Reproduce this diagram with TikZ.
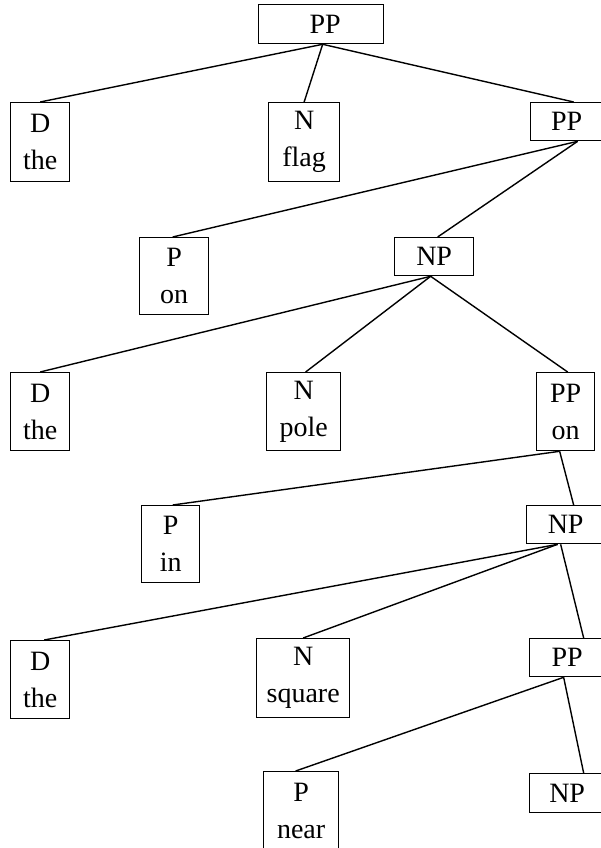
\documentclass[tikz,border=0pt]{standalone}
\usepackage{fontspec}
\setmainfont{Liberation Serif}
\begin{document}
\begin{tikzpicture}[x=1pt,y=-1pt,
  box/.style={draw, line width=1.3pt, anchor=north west, inner sep=0pt, align=center,
    font=\fontsize{28}{37}\selectfont},
  link/.style={line width=1.4pt}]
\useasboundingbox (0,0) rectangle (601,848);
% nodes
\node[box, minimum width=125pt, minimum height=39pt] (root) at (258,4) {\hspace*{8pt}PP};
\node[box, minimum width=59pt, minimum height=79pt] (d1) at (10,102) {D\\the};
\node[box, minimum width=71pt, minimum height=79pt] (n1) at (268,102) {N\\flag};
\node[box, minimum width=72pt, minimum height=38pt] (pp1) at (530,102) {PP};
\node[box, minimum width=69pt, minimum height=77pt] (p2) at (139,237) {P\\on};
\node[box, minimum width=79pt, minimum height=38pt] (np2) at (394,237) {NP};
\node[box, minimum width=59pt, minimum height=78pt] (d3) at (10,372) {D\\the};
\node[box, minimum width=74pt, minimum height=78pt] (n3) at (266,372) {N\\pole};
\node[box, minimum width=58pt, minimum height=78pt] (pp3) at (536,372) {PP\\on};
\node[box, minimum width=58pt, minimum height=77pt] (p4) at (141,505) {P\\in};
\node[box, minimum width=78pt, minimum height=38pt] (np4) at (526,505) {NP};
\node[box, minimum width=59pt, minimum height=78pt] (d5) at (10,640) {D\\the};
\node[box, minimum width=93pt, minimum height=79pt] (n5) at (256,638) {N\\square};
\node[box, minimum width=75pt, minimum height=38pt] (pp5) at (529,638) {PP};
\node[box, minimum width=75pt, minimum height=79pt] (p6) at (263,771) {P\\near};
\node[box, minimum width=75pt, minimum height=39pt] (np6) at (529,773) {NP};
% connectors
\draw[link] ([xshift=1.5pt]root.south) -- (d1.north);
\draw[link] ([xshift=1.5pt]root.south) -- (n1.north);
\draw[link] ([xshift=1.5pt]root.south) -- ([xshift=7pt]pp1.north);
\draw[link] ([xshift=11pt]pp1.south) -- ([xshift=-1.5pt]p2.north);
\draw[link] ([xshift=11pt]pp1.south) -- ([xshift=3.5pt]np2.north);
\draw[link] ([xshift=-3.5pt]np2.south) -- (d3.north);
\draw[link] ([xshift=-3.5pt]np2.south) -- ([xshift=2pt]n3.north);
\draw[link] ([xshift=-3.5pt]np2.south) -- ([xshift=2pt]pp3.north);
\draw[link] ([xshift=-6pt]pp3.south) -- ([xshift=2pt]p4.north);
\draw[link] ([xshift=-6pt]pp3.south) -- ([xshift=8pt]np4.north);
\draw[link] ([xshift=-8pt]np4.south) -- ([xshift=4pt]d5.north);
\draw[link] ([xshift=-8pt]np4.south) -- (n5.north);
\draw[link] ([xshift=-5pt]np4.south) -- ([xshift=16.5pt]pp5.north);
\draw[link] ([xshift=-3.5pt]pp5.south) -- ([xshift=-5.5pt]p6.north);
\draw[link] ([xshift=-3.5pt]pp5.south) -- ([xshift=16.5pt]np6.north);
\end{tikzpicture}
\end{document}
